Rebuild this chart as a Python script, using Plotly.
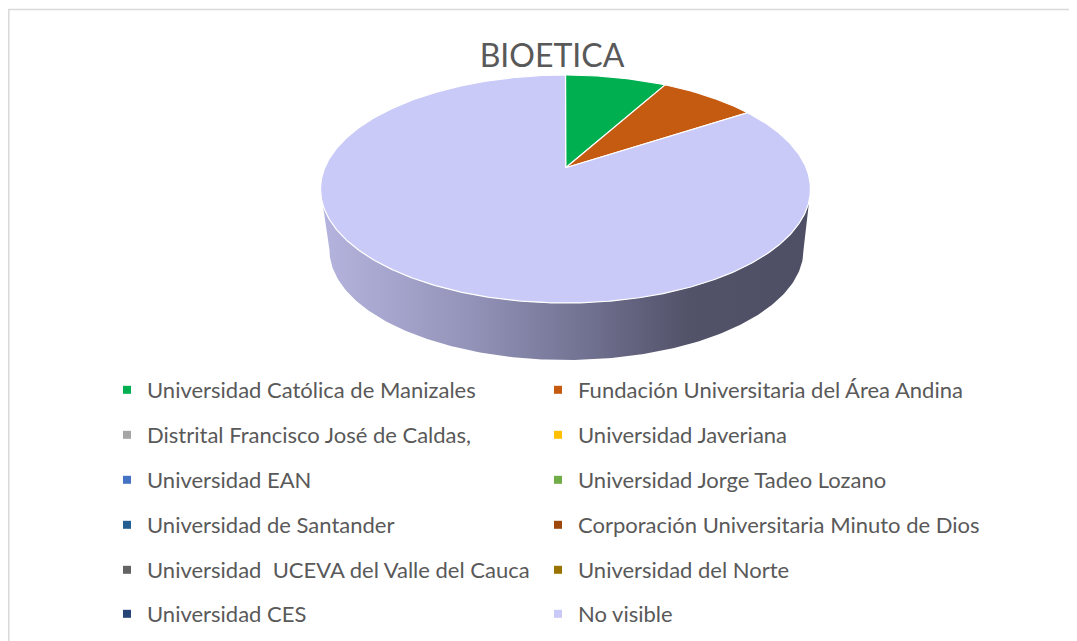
import math
import plotly.graph_objects as go

# ---------------- data ----------------
title_text = "BIOETICA"
categories = [
    "Universidad Católica de Manizales",
    "Fundación Universitaria del Área Andina",
    "Distrital Francisco José de Caldas,",
    "Universidad Javeriana",
    "Universidad EAN",
    "Universidad Jorge Tadeo Lozano",
    "Universidad de Santander",
    "Corporación Universitaria Minuto de Dios",
    "Universidad  UCEVA del Valle del Cauca",
    "Universidad del Norte",
    "Universidad CES",
    "No visible",
]
values = [1, 1, 0, 0, 0, 0, 0, 0, 0, 0, 0, 13]
colors = [
    "#00B050", "#C55A11", "#A5A5A5", "#FFC000", "#4472C4", "#70AD47",
    "#255E91", "#9E480E", "#636363", "#997300", "#264478", "#CACAF9",
]

# ---------------- geometry (layout constants, page pixel space) ----------------
PAGE_W, PAGE_H = 1077, 641
OFF = 8                      # default html body margin
FW, FH = PAGE_W - OFF, PAGE_H - OFF
CX, CY, RX, RY = 565.5, 189.0, 245.0, 114.0      # top ellipse
APX, APY = 565.7, 167.7                            # apex (perspective centre)
BCX, BCY, BRX, BRY = 566.5, 250.0, 237.0, 110.0    # bottom ellipse
TXT = "#595959"
FONT = "Lato, Open Sans, sans-serif"


def px_x(page_x):
    return (page_x - OFF) / FW


def px_y(page_y):
    return 1 - (page_y - OFF) / FH


def rim(theta_deg, cx, cy, rx, ry):
    t = math.radians(theta_deg)
    return cx + rx * math.sin(t), cy - ry * math.cos(t)


fig = go.Figure()

# side wall (front half)
sx, sy = [], []
for k in range(0, 181):
    x, y = rim(270 - k, CX, CY, RX, RY)
    sx.append(x); sy.append(y)
for k in range(0, 181):
    x, y = rim(90 + k, BCX, BCY, BRX, BRY)
    sx.append(x); sy.append(y)
sx.append(sx[0]); sy.append(sy[0])
fig.add_trace(go.Scatter(
    x=sx, y=sy, mode="lines", line=dict(width=0, color="rgba(0,0,0,0)"),
    fill="toself",
    fillgradient=dict(type="horizontal", colorscale=[
        [0.0, "#B4B4DE"], [0.3, "#9494BA"], [0.55, "#707090"],
        [0.75, "#525269"], [1.0, "#4E4E64"]]),
    hoverinfo="skip", showlegend=False))

# top slices
total = sum(values)
start = 0.0
for name, v, c in zip(categories, values, colors):
    if v <= 0:
        continue
    span = 360.0 * v / total
    n = max(2, int(span * 2))
    px, py = [APX], [APY]
    for k in range(n + 1):
        x, y = rim(start + span * k / n, CX, CY, RX, RY)
        px.append(x); py.append(y)
    px.append(APX); py.append(APY)
    fig.add_trace(go.Scatter(
        x=px, y=py, mode="lines", fill="toself", fillcolor=c,
        line=dict(color="white", width=1.2), name=name,
        hoverinfo="name", showlegend=False))
    start += span

# legend entries: one legend per entry, two columns x six rows
row_y = [390, 435, 480, 525, 570, 614]
col_x = [107, 538]
legends = {}
for i, (name, c) in enumerate(zip(categories, colors)):
    key = "legend" if i == 0 else f"legend{i + 1}"
    fig.add_trace(go.Scatter(
        x=[None], y=[None], mode="markers", name=name,
        marker=dict(symbol="square", size=8, color=c), legend=key))
    legends[key] = dict(
        orientation="h", x=px_x(col_x[i % 2]), xanchor="left",
        y=px_y(row_y[i // 2]), yanchor="middle",
        font=dict(family=FONT, size=22, color=TXT),
        bgcolor="rgba(0,0,0,0)", borderwidth=0)

fig.update_layout(
    width=FW, height=FH, margin=dict(l=0, r=0, t=0, b=0),
    paper_bgcolor="white", plot_bgcolor="white",
    title=dict(text=title_text, x=px_x(552), xanchor="center",
               y=px_y(56), yanchor="middle",
               font=dict(family=FONT, size=32, color=TXT)),
    xaxis=dict(range=[OFF, PAGE_W], visible=False, fixedrange=True),
    yaxis=dict(range=[PAGE_H, OFF], visible=False, fixedrange=True),
    shapes=[
        dict(type="line", xref="x", yref="y", x0=8, x1=PAGE_W, y0=9.5, y1=9.5,
             line=dict(color="#D9D9D9", width=1.5)),
        dict(type="line", xref="x", yref="y", x0=8.8, x1=8.8, y0=9, y1=PAGE_H,
             line=dict(color="#D9D9D9", width=1.5)),
    ],
    **legends,
)

fig.write_html("out.html")
